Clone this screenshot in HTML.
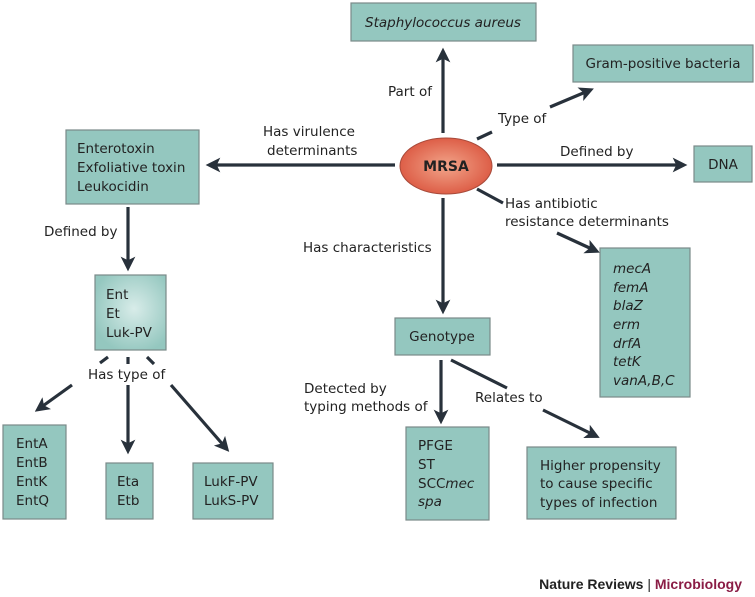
<!DOCTYPE html>
<html><head><meta charset="utf-8"><style>
html,body{margin:0;padding:0;background:#fff;}
svg{display:block;}
text{font-family:"DejaVu Sans","Liberation Sans",sans-serif;font-size:13.5px;fill:#222;}
.b{fill:#94c7bf;stroke:#7a8a88;stroke-width:1.2;}
.l{stroke:#28313b;stroke-width:3.2;fill:none;}
.i{font-style:italic;}
</style></head><body>
<svg width="755" height="597" viewBox="0 0 755 597" xmlns="http://www.w3.org/2000/svg">
<defs>
<marker id="a" markerWidth="4.6" markerHeight="4.6" refX="2.6" refY="2.3" orient="auto" markerUnits="strokeWidth"><path d="M0,0 L4.6,2.3 L0,4.6 L1.1,2.3 Z" fill="#28313b"/></marker>
<radialGradient id="g" cx="0.5" cy="0.5" r="0.6"><stop offset="0" stop-color="#f2a58a"/><stop offset="1" stop-color="#d9503a"/></radialGradient>
<radialGradient id="g2" cx="0.55" cy="0.45" r="0.6"><stop offset="0" stop-color="#d8ece9"/><stop offset="1" stop-color="#94c7bf"/></radialGradient>
</defs>
<rect class="b" x="351" y="3" width="185" height="38"/>
<text class="i" x="443" y="27" text-anchor="middle">Staphylococcus aureus</text>
<rect class="b" x="573" y="45" width="180" height="37"/>
<text x="663" y="68" text-anchor="middle">Gram-positive bacteria</text>
<rect class="b" x="66" y="130" width="133" height="74"/>
<text x="77" y="153">Enterotoxin</text><text x="77" y="172">Exfoliative toxin</text><text x="77" y="191">Leukocidin</text>
<rect class="b" x="694" y="146" width="58" height="36"/>
<text x="723" y="169" text-anchor="middle">DNA</text>
<rect class="b" x="95" y="275" width="71" height="75" style="fill:url(#g2)"/>
<text x="106" y="299">Ent</text><text x="106" y="318">Et</text><text x="106" y="337">Luk-PV</text>
<rect class="b" x="600" y="248" width="90" height="149"/>
<g class="i"><text x="613" y="273">mecA</text><text x="613" y="292">femA</text><text x="613" y="310">blaZ</text><text x="613" y="329">erm</text><text x="613" y="348">drfA</text><text x="613" y="366">tetK</text><text x="613" y="385">vanA,B,C</text></g>
<rect class="b" x="395" y="318" width="95" height="37"/>
<text x="442" y="341" text-anchor="middle">Genotype</text>
<rect class="b" x="3" y="425" width="63" height="94"/>
<text x="16" y="448">EntA</text><text x="16" y="467">EntB</text><text x="16" y="486">EntK</text><text x="16" y="505">EntQ</text>
<rect class="b" x="106" y="463" width="47" height="56"/>
<text x="117" y="486">Eta</text><text x="117" y="505">Etb</text>
<rect class="b" x="193" y="463" width="80" height="56"/>
<text x="204" y="486">LukF-PV</text><text x="204" y="505">LukS-PV</text>
<rect class="b" x="406" y="427" width="83" height="93"/>
<text x="418" y="450">PFGE</text><text x="418" y="469">ST</text><text x="418" y="488">SCC<tspan class="i">mec</tspan></text><text x="418" y="506" class="i">spa</text>
<rect class="b" x="527" y="447" width="149" height="72"/>
<text x="540" y="470">Higher propensity</text><text x="540" y="488">to cause specific</text><text x="540" y="507">types of infection</text>
<ellipse cx="446" cy="166" rx="46" ry="28" fill="url(#g)" stroke="#a84a3a" stroke-width="1"/>
<text x="446" y="171" text-anchor="middle" style="font-weight:bold;font-size:14px">MRSA</text>
<line class="l" x1="443" y1="133" x2="443" y2="54" marker-end="url(#a)"/>
<text x="388" y="96">Part of</text>
<line class="l" x1="477" y1="139" x2="492" y2="132"/>
<line class="l" x1="550" y1="107" x2="588" y2="91" marker-end="url(#a)"/>
<text x="498" y="123">Type of</text>
<line class="l" x1="497" y1="165" x2="681" y2="165" marker-end="url(#a)"/>
<text x="560" y="156">Defined by</text>
<line class="l" x1="395" y1="165" x2="212" y2="165" marker-end="url(#a)"/>
<text x="263" y="136">Has virulence</text><text x="267" y="155">determinants</text>
<line class="l" x1="477" y1="189" x2="503" y2="203"/>
<text x="505" y="208">Has antibiotic</text><text x="505" y="226">resistance determinants</text>
<line class="l" x1="557" y1="233" x2="594" y2="250" marker-end="url(#a)"/>
<line class="l" x1="443" y1="198" x2="443" y2="308" marker-end="url(#a)"/>
<text x="303" y="252">Has characteristics</text>
<line class="l" x1="128" y1="207" x2="128" y2="265" marker-end="url(#a)"/>
<text x="44" y="236">Defined by</text>
<line class="l" x1="108" y1="357" x2="100" y2="363"/>
<line class="l" x1="128" y1="357" x2="128" y2="364"/>
<line class="l" x1="147" y1="357" x2="154" y2="364"/>
<text x="88" y="379">Has type of</text>
<line class="l" x1="72" y1="385" x2="40" y2="408" marker-end="url(#a)"/>
<line class="l" x1="128" y1="385" x2="128" y2="448" marker-end="url(#a)"/>
<line class="l" x1="171" y1="385" x2="225" y2="447" marker-end="url(#a)"/>
<line class="l" x1="441" y1="360" x2="441" y2="418" marker-end="url(#a)"/>
<text x="304" y="393">Detected by</text><text x="304" y="411">typing methods of</text>
<line class="l" x1="451" y1="360" x2="507" y2="388"/>
<text x="475" y="402">Relates to</text>
<line class="l" x1="543" y1="410" x2="594" y2="435" marker-end="url(#a)"/>
<text x="742" y="589" text-anchor="end" style="font-family:'Liberation Sans',sans-serif;font-weight:bold;font-size:14px">Nature Reviews <tspan style="font-weight:normal">|</tspan> <tspan style="fill:#8a1c45;font-weight:bold">Microbiology</tspan></text>
</svg>
</body></html>
